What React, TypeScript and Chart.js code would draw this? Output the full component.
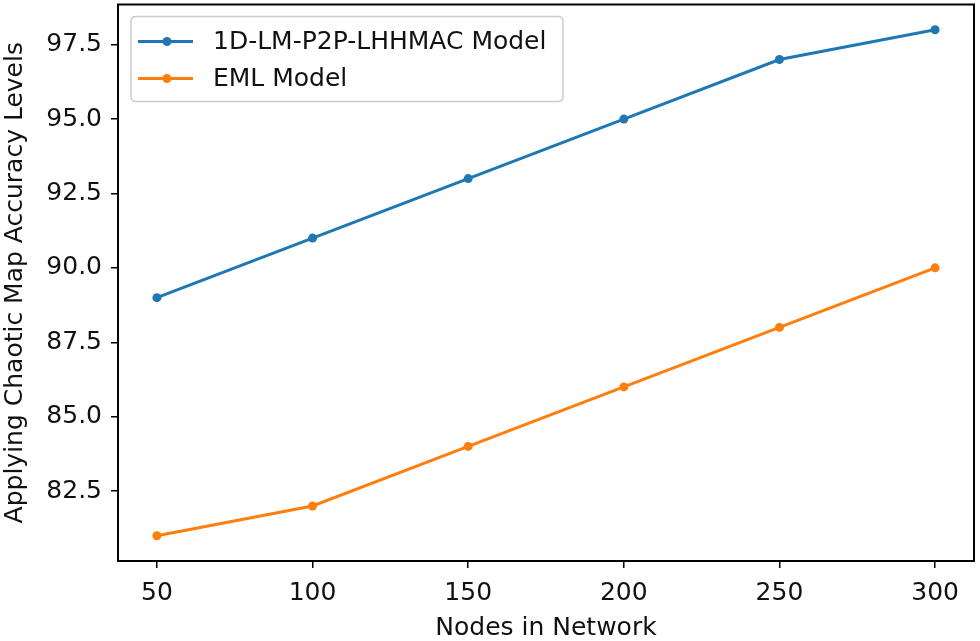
import React, { useEffect, useRef } from "react";
import { Chart, registerables } from "chart.js";

Chart.register(...registerables);

const nodes = [50, 100, 150, 200, 250, 300];
const lhhmacValues = [89, 91, 93, 95, 97, 98];
const emlValues = [81, 82, 84, 86, 88, 90];
const xTicks = [50, 100, 150, 200, 250, 300];
const yTicks = [82.5, 85.0, 87.5, 90.0, 92.5, 95.0, 97.5];
const seriesLabels = ["1D-LM-P2P-LHHMAC Model", "EML Model"];
const xTitle = "Nodes in Network";
const yTitle = "Applying Chaotic Map Accuracy Levels";

const FONT = "'DejaVu Sans', sans-serif";
const FS = 25;
const BLUE = "#1f77b4";
const ORANGE = "#ff7f0e";
const TEXT = "#111111";

const framePlugin = {
  id: "frame",
  afterDraw(chart: any) {
    const { ctx, chartArea } = chart;
    ctx.save();
    ctx.strokeStyle = "#000";
    ctx.lineWidth = 2;
    ctx.strokeRect(chartArea.left, chartArea.top, chartArea.right - chartArea.left, chartArea.bottom - chartArea.top);
    ctx.restore();
  },
};

const legendPlugin = {
  id: "mplLegend",
  afterDraw(chart: any) {
    const { ctx, chartArea } = chart;
    const x = chartArea.left + 13;
    const y = chartArea.top + 12;
    const w = 432;
    const h = 85;
    const r = 5;
    ctx.save();
    ctx.beginPath();
    ctx.moveTo(x + r, y);
    ctx.lineTo(x + w - r, y);
    ctx.quadraticCurveTo(x + w, y, x + w, y + r);
    ctx.lineTo(x + w, y + h - r);
    ctx.quadraticCurveTo(x + w, y + h, x + w - r, y + h);
    ctx.lineTo(x + r, y + h);
    ctx.quadraticCurveTo(x, y + h, x, y + h - r);
    ctx.lineTo(x, y + r);
    ctx.quadraticCurveTo(x, y, x + r, y);
    ctx.closePath();
    ctx.fillStyle = "rgba(255,255,255,0.85)";
    ctx.fill();
    ctx.strokeStyle = "#cccccc";
    ctx.lineWidth = 1.5;
    ctx.stroke();
    chart.data.datasets.forEach((ds: any, i: number) => {
      const cy = y + 25 + i * 37;
      ctx.strokeStyle = ds.borderColor;
      ctx.lineWidth = 3;
      ctx.beginPath();
      ctx.moveTo(x + 7, cy);
      ctx.lineTo(x + 62, cy);
      ctx.stroke();
      ctx.fillStyle = ds.borderColor;
      ctx.beginPath();
      ctx.arc(x + 36, cy, 4.5, 0, Math.PI * 2);
      ctx.fill();
      ctx.fillStyle = TEXT;
      ctx.font = `${FS}px ${FONT}`;
      ctx.textBaseline = "middle";
      ctx.textAlign = "left";
      ctx.fillText(ds.label, x + 82, cy + 1);
    });
    ctx.restore();
  },
};

export default function App() {
  const ref = useRef<HTMLCanvasElement | null>(null);
  useEffect(() => {
    if (!ref.current) return;
    const mk = (label: string, values: number[], color: string) => ({
      label,
      data: nodes.map((n, i) => ({ x: n, y: values[i] })),
      borderColor: color,
      backgroundColor: color,
      borderWidth: 3,
      pointRadius: 4.5,
      pointBackgroundColor: color,
      pointBorderColor: color,
      pointBorderWidth: 0,
      tension: 0,
    });
    const tickGrid = {
      display: true,
      drawOnChartArea: false,
      drawTicks: true,
      tickLength: 7,
      tickColor: "#000",
      lineWidth: 1.5,
    };
    const chart = new Chart(ref.current, {
      type: "line",
      data: {
        datasets: [mk(seriesLabels[0], lhhmacValues, BLUE), mk(seriesLabels[1], emlValues, ORANGE)],
      },
      plugins: [framePlugin, legendPlugin],
      options: {
        animation: false,
        responsive: false,
        devicePixelRatio: 1,
        layout: { padding: { left: 0, right: 6, top: 3, bottom: 0 } },
        plugins: { legend: { display: false }, tooltip: { enabled: false } },
        scales: {
          x: {
            type: "linear",
            min: 37.5,
            max: 312.5,
            afterBuildTicks: (s: any) => {
              s.ticks = xTicks.map((v) => ({ value: v }));
            },
            afterFit: (s: any) => {
              s.height = 80;
              s.paddingLeft = 0;
              s.paddingRight = 0;
            },
            grid: tickGrid,
            border: { display: false },
            ticks: {
              color: TEXT,
              font: { family: FONT, size: FS },
              padding: 10,
              maxRotation: 0,
              callback: (v: any) => String(v),
            },
            title: {
              display: true,
              text: xTitle,
              color: TEXT,
              font: { family: FONT, size: FS },
              padding: { top: 0, bottom: -2 },
            },
          },
          y: {
            type: "linear",
            min: 80.15,
            max: 98.85,
            afterBuildTicks: (s: any) => {
              s.ticks = yTicks.map((v) => ({ value: v }));
            },
            afterFit: (s: any) => {
              s.width = 118;
              s.paddingTop = 0;
              s.paddingBottom = 0;
            },
            grid: tickGrid,
            border: { display: false },
            ticks: {
              color: TEXT,
              font: { family: FONT, size: FS },
              padding: 9,
              callback: (v: any) => Number(v).toFixed(1),
            },
            title: {
              display: true,
              text: yTitle,
              color: TEXT,
              font: { family: FONT, size: FS },
              padding: { top: 0, bottom: 0 },
            },
          },
        },
      } as any,
    });
    return () => chart.destroy();
  }, []);
  return (
    <div style={{ position: "fixed", left: 0, top: 0, width: 980, height: 641, background: "#fff" }}>
      <canvas ref={ref} width={980} height={641} style={{ display: "block", width: 980, height: 641 }} />
    </div>
  );
}
